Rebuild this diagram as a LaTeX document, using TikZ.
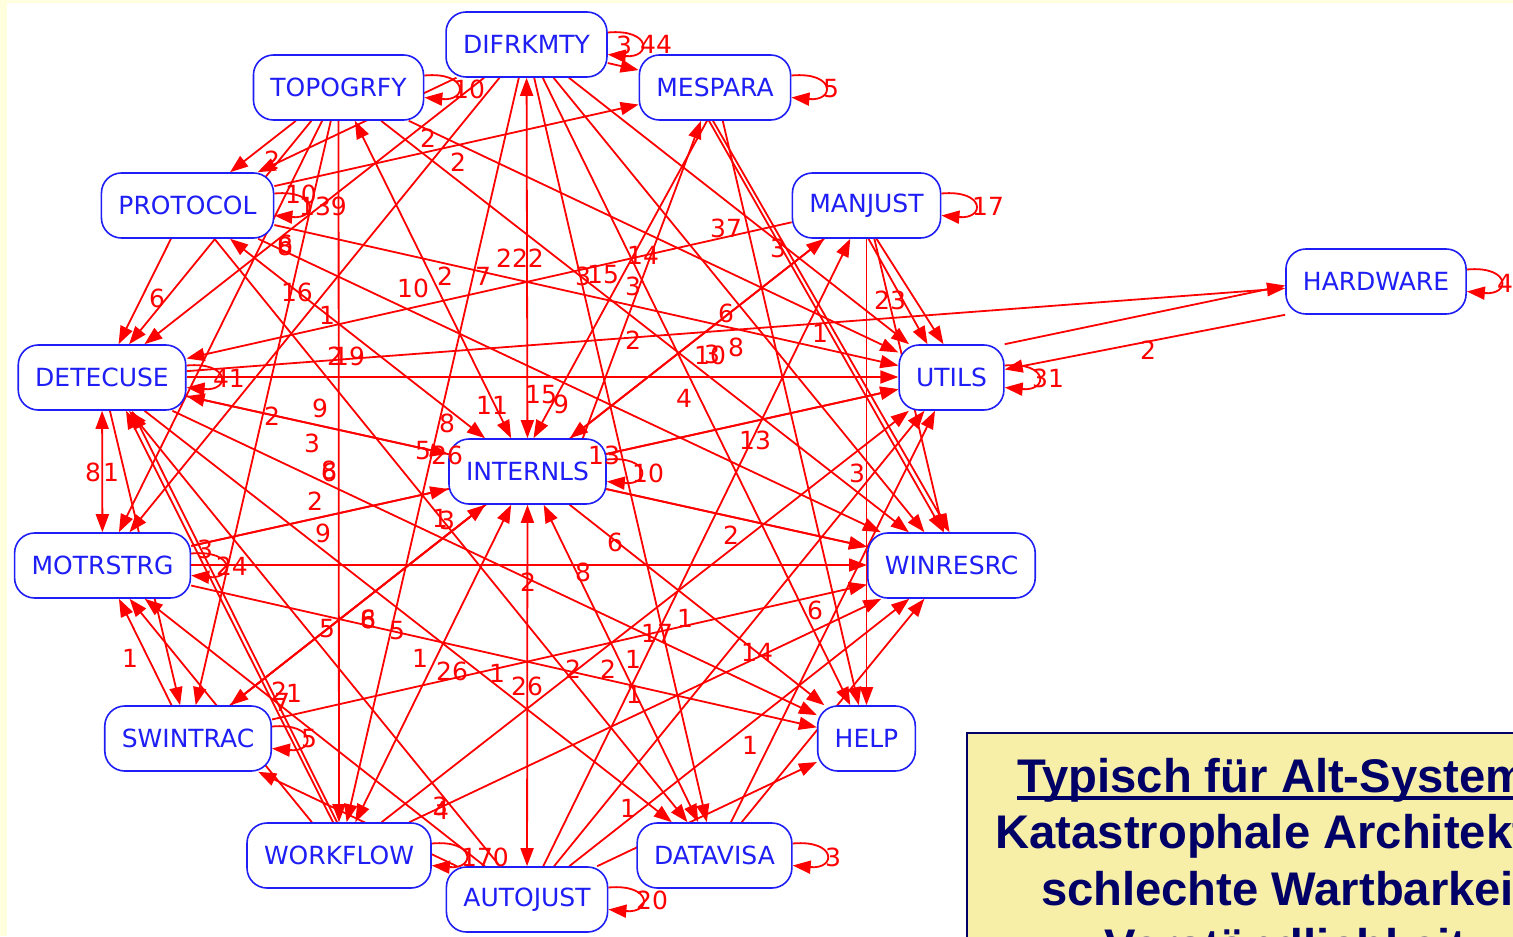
\documentclass[tikz,border=0pt]{standalone}
\usepackage{fontspec}
\setmainfont{DejaVu Sans}
\newfontfamily\notefont{Liberation Sans}
\usetikzlibrary{arrows.meta,calc}
\definecolor{edgered}{RGB}{255,0,0}
\definecolor{nodeblue}{RGB}{30,30,245}
\definecolor{navy}{RGB}{0,0,102}
\definecolor{paper}{RGB}{255,255,222}
\definecolor{notefill}{RGB}{247,238,168}
\pgfdeclarelayer{wires}
\pgfsetlayers{wires,main}
\begin{document}
\begin{tikzpicture}[x=0.5pt,y=-0.5pt,
  mod/.style={draw=nodeblue, line width=0.8pt, rounded corners=10pt, fill=white,
    text=nodeblue, font=\fontsize{12.5}{15}\selectfont, minimum height=32.5pt, inner xsep=8.5pt},
  dep/.style={draw=edgered, line width=0.9pt, -{Triangle[length=9pt,width=6.5pt]}},
  both/.style={draw=edgered, line width=0.9pt, {Triangle[length=9pt,width=6.5pt]}-{Triangle[length=9pt,width=6.5pt]}},
  cnt/.style={text=edgered, font=\fontsize{12.5}{15}\selectfont, inner sep=0pt},
  note/.style={text=navy, font=\notefont\bfseries\fontsize{23.6}{28}\selectfont, inner sep=0pt, anchor=base},
]
% page and canvas
\useasboundingbox (0,0) rectangle (1513,936);
\begin{pgfonlayer}{wires}
\fill[paper] (0,0) rectangle (1513,936);
\fill[white] (7,3) rectangle (1513,936);
\end{pgfonlayer}
\clip (0,0) rectangle (1513,936);

% modules
\node[mod] (DIF) at (526.5,44.5) {DIFRKMTY};
\node[mod] (TOP) at (338.5,87.5) {TOPOGRFY};
\node[mod] (MES) at (715,87.5) {MESPARA};
\node[mod] (PRO) at (187.5,205.5) {PROTOCOL};
\node[mod] (MAN) at (866.5,205.5) {MANJUST};
\node[mod] (HAR) at (1376,281.5) {HARDWARE};
\node[mod] (DET) at (102,377.5) {DETECUSE};
\node[mod] (UTI) at (951.5,377.5) {UTILS};
\node[mod] (INT) at (527.5,471.5) {INTERNLS};
\node[mod] (MOT) at (102.5,565.5) {MOTRSTRG};
\node[mod] (WIN) at (951.5,565.5) {WINRESRC};
\node[mod] (SWI) at (188,738.5) {SWINTRAC};
\node[mod] (HEL) at (866.5,738.5) {HELP};
\node[mod] (WOR) at (339,855.5) {WORKFLOW};
\node[mod] (AUT) at (527,899.5) {AUTOJUST};
\node[mod] (DAT) at (714.5,855.5) {DATAVISA};

\begin{pgfonlayer}{wires}
% self references, drawn as loops on the right side
\foreach \m in {DIF,TOP,MES,PRO,MAN,HAR,DET,UTI,INT,MOT,SWI,WOR,AUT,DAT}
  \draw[dep] ($(\m.east)+(0,-12)$) .. controls +(44,-4) and +(44,4) .. ($(\m.east)+(0,10)$);

% dependencies
\foreach \a/\b in {
  TOP/PRO, TOP/DET, TOP/MOT, TOP/SWI, TOP/WOR, TOP/UTI, TOP/WIN,
  DIF/MES, DIF/UTI, DIF/WIN, DIF/HEL, DIF/DAT, DIF/MOT, DIF/DET, DIF/PRO, DIF/WOR,
  MES/HEL, PRO/MES,
  PRO/DET, PRO/UTI, PRO/WIN, PRO/DAT,
  MAN/WIN, MAN/HEL, MAN/DET, MAN/INT, SWI/MAN, AUT/MAN,
  DET/HAR,
  DET/WIN, DET/DAT, DET/HEL, AUT/DET, DET/SWI,
  MOT/UTI, MOT/INT, MOT/HEL, SWI/MOT, WOR/MOT, AUT/MOT,
  INT/WIN, INT/HEL, INT/UTI, SWI/INT, INT/SWI,
  SWI/WIN, WOR/WIN, AUT/WIN, WOR/UTI, AUT/UTI, DAT/UTI, DAT/WIN, AUT/HEL, AUT/SWI}
  \draw[dep] (\a) -- (\b);

\foreach \a/\b in {TOP/INT, DIF/INT, PRO/INT, DET/MOT, DET/INT, INT/DAT, INT/AUT, WOR/INT}
  \draw[both] (\a) -- (\b);

% long horizontal runs
\draw[dep] ([yshift=0.25pt]DET.east) -- ([yshift=0.25pt]UTI.west);
\draw[dep] ([yshift=0.25pt]MOT.east) -- ([yshift=0.25pt]WIN.west);

% hardware links
\draw[dep] (UTI.north east) -- ([yshift=-2pt]HAR.west);
\draw[dep] (HAR.south west) -- ([yshift=4pt]UTI.east);

% parallel pairs
\draw[dep] ([xshift=-3pt]MES.south) -- ([xshift=-4pt]WIN.north);
\draw[dep] ([xshift=-1pt]MES.south) -- ([xshift=-1pt]WIN.north);
\draw[dep] ([xshift=-4pt]MES.south) -- ([xshift=3pt]INT.north);
\draw[dep] ([xshift=-12pt]INT.north east) -- ([xshift=-7pt]MES.south);
\draw[dep] ([xshift=1pt]MAN.south) -- ([xshift=-12pt]UTI.north);
\draw[dep] ([xshift=5pt]MAN.south) -- ([xshift=-4pt]UTI.north);
\draw[dep] ([xshift=-3pt]WOR.north) -- ([xshift=12pt]DET.south);
\draw[dep] ([xshift=-1pt]WOR.north) -- ([xshift=15pt]DET.south);
\end{pgfonlayer}

% counts
\foreach \t/\x/\y [count=\i] in {
  3/624/45, 44/656/44, 10/469/89, 5/831/89, 2/272/160, 2/428/138, 2/458/162,
  10/301/194, 139/323/206, 17/988/206, 37/726/228, 3/778/248, 14/643/255,
  222/520/258, 3/583/276, 15/603/275, 3/633/286, 10/413/288, 2/445/276, 7/483/276,
  6/157/298, 16/297/292, 1/327/315, 8/285/246, 6/285/244, 23/890/300, 6/726/313,
  1/820/333, 2/633/340, 10/710/355, 3/712/354, 8/736/347, 2/335/356, 19/349/356,
  41/229/378, 31/1048/378, 2/1148/350, 15/541/395, 9/561/404, 11/492/405, 4/684/398,
  9/320/408, 2/272/416, 8/447/423, 3/312/443, 13/755/440, 5/423/451, 26/447/455,
  13/604/455, 10/648/473, 3/857/473, 8/329/470, 6/329/472, 8/93/472, 1/111/472,
  2/315/501, 1/440/518, 3/447/520, 9/323/533, 2/731/535, 6/615/542, 24/232/566,
  3/205/549, 2/528/582, 8/583/572, 6/815/610, 5/327/629, 8/368/619, 6/368/619,
  5/397/631, 17/657/633, 1/685/618, 14/757/652, 1/130/658, 1/420/658, 26/452/671,
  1/497/673, 26/527/686, 2/573/669, 2/608/669, 1/633/659, 1/634/694, 2/279/691,
  1/294/693, 7/282/702, 5/309/739, 1/750/745, 3/440/806, 4/441/810, 1/628/808,
  170/485/857, 3/833/857, 20/652/900, 4/1505/283}
  \node[cnt] (c\i) at (\x,\y) {\t};

% remark panel
\draw[navy, line width=1pt, fill=notefill] (967,733) rectangle (1604,1000);
\node[note] (n1) at (1285.4,792) {Typisch für Alt-Systeme};
\draw[navy, line width=1.6pt] ($(n1.base west)+(0,6)$) -- ($(n1.base east)+(0,6)$);
\node[note] (n2) at (1285.4,848) {Katastrophale Architektur};
\node[note] (n3) at (1285.4,905) {schlechte Wartbarkeit};
\node[note] (n4) at (1285.4,962) {Verständlichkeit};
\end{tikzpicture}
\end{document}
